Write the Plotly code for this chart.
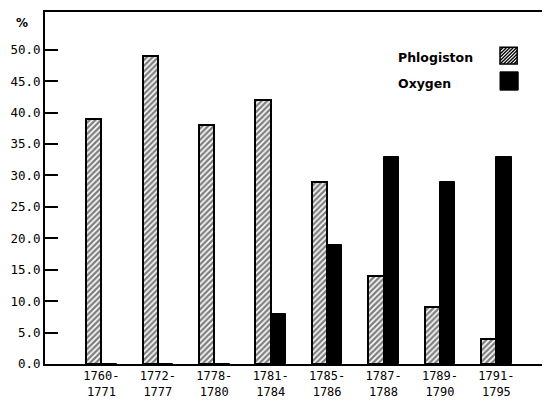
import plotly.graph_objects as go

# periods and share of papers (%)
periods = ["1760-<br>1771", "1772-<br>1777", "1778-<br>1780", "1781-<br>1784",
           "1785-<br>1786", "1787-<br>1788", "1789-<br>1790", "1791-<br>1795"]
phlogiston = [39, 49, 38, 42, 29, 14, 9, 4]
oxygen = [0, 0, 0, 8, 19, 33, 29, 33]
yticks = [0, 5, 10, 15, 20, 25, 30, 35, 40, 45, 50]

pos = list(range(len(periods)))
w = 0.27

fig = go.Figure()
fig.add_trace(go.Bar(
    x=[p - w / 2 for p in pos], y=phlogiston, width=w, name="Phlogiston",
    marker=dict(color="white", line=dict(color="black", width=2),
                pattern=dict(shape="/", fgcolor="black", bgcolor="white",
                             size=4, solidity=0.6)),
))
fig.add_trace(go.Bar(
    x=[p + w / 2 for p in pos], y=oxygen, width=w, name="Oxygen",
    marker=dict(color="black", line=dict(color="black", width=1)),
))

# legend drawn by hand: label on the left, swatch on the right
fnt = dict(family="DejaVu Sans", size=12.5, color="black")
fig.add_annotation(text="<b>Phlogiston</b>", xref="paper", yref="paper",
                   x=0.695, y=0.872, xanchor="left", yanchor="middle",
                   showarrow=False, font=fnt)
fig.add_annotation(text="<b>Oxygen</b>", xref="paper", yref="paper",
                   x=0.695, y=0.798, xanchor="left", yanchor="middle",
                   showarrow=False, font=fnt)

x0, x1 = 0.901, 0.935
y0, y1 = 0.852, 0.900
fig.add_shape(type="rect", xref="paper", yref="paper", x0=x0, x1=x1, y0=y0, y1=y1,
              line=dict(color="black", width=1.5), fillcolor="white")
n = 5
path = ""
for i in range(-n + 1, n):
    c = i / n
    sx, sy = max(0.0, c), max(0.0, -c)
    ex, ey = min(1.0, 1 + c), min(1.0, 1 - c)
    path += "M {} {} L {} {} ".format(x0 + sx * (x1 - x0), y0 + sy * (y1 - y0),
                                      x0 + ex * (x1 - x0), y0 + ey * (y1 - y0))
fig.add_shape(type="path", xref="paper", yref="paper", path=path,
              line=dict(color="black", width=1.4))
fig.add_shape(type="rect", xref="paper", yref="paper", x0=x0, x1=0.937, y0=0.778, y1=0.830,
              line=dict(color="black", width=1), fillcolor="black")

fig.add_annotation(text="<b>%</b>", xref="paper", yref="paper", x=-0.045, y=0.97,
                   xanchor="center", yanchor="middle", showarrow=False,
                   font=dict(family="DejaVu Sans", size=12, color="black"))

# the page body adds an 8px margin, so the figure is sized 8px smaller
fig.update_layout(
    width=542, height=394,
    margin=dict(l=37, r=0, t=4, b=38),
    paper_bgcolor="white", plot_bgcolor="white",
    showlegend=False, barmode="overlay", bargap=0,
    font=dict(family="DejaVu Sans Mono", size=12, color="black"),
)
fig.update_xaxes(
    range=[-1.0, 7.95], tickvals=pos, ticktext=periods, ticks="",
    showline=True, linecolor="black", linewidth=2, mirror=True,
    showgrid=False, zeroline=False, tickfont=dict(size=12),
)
fig.update_yaxes(
    range=[0, 56], tickvals=yticks, tickformat=".1f", ticks="inside",
    ticklen=13, tickwidth=2, tickcolor="black",
    showline=True, linecolor="black", linewidth=2,
    showgrid=False, zeroline=False, tickfont=dict(size=12.5),
)

fig.write_html("out.html")
